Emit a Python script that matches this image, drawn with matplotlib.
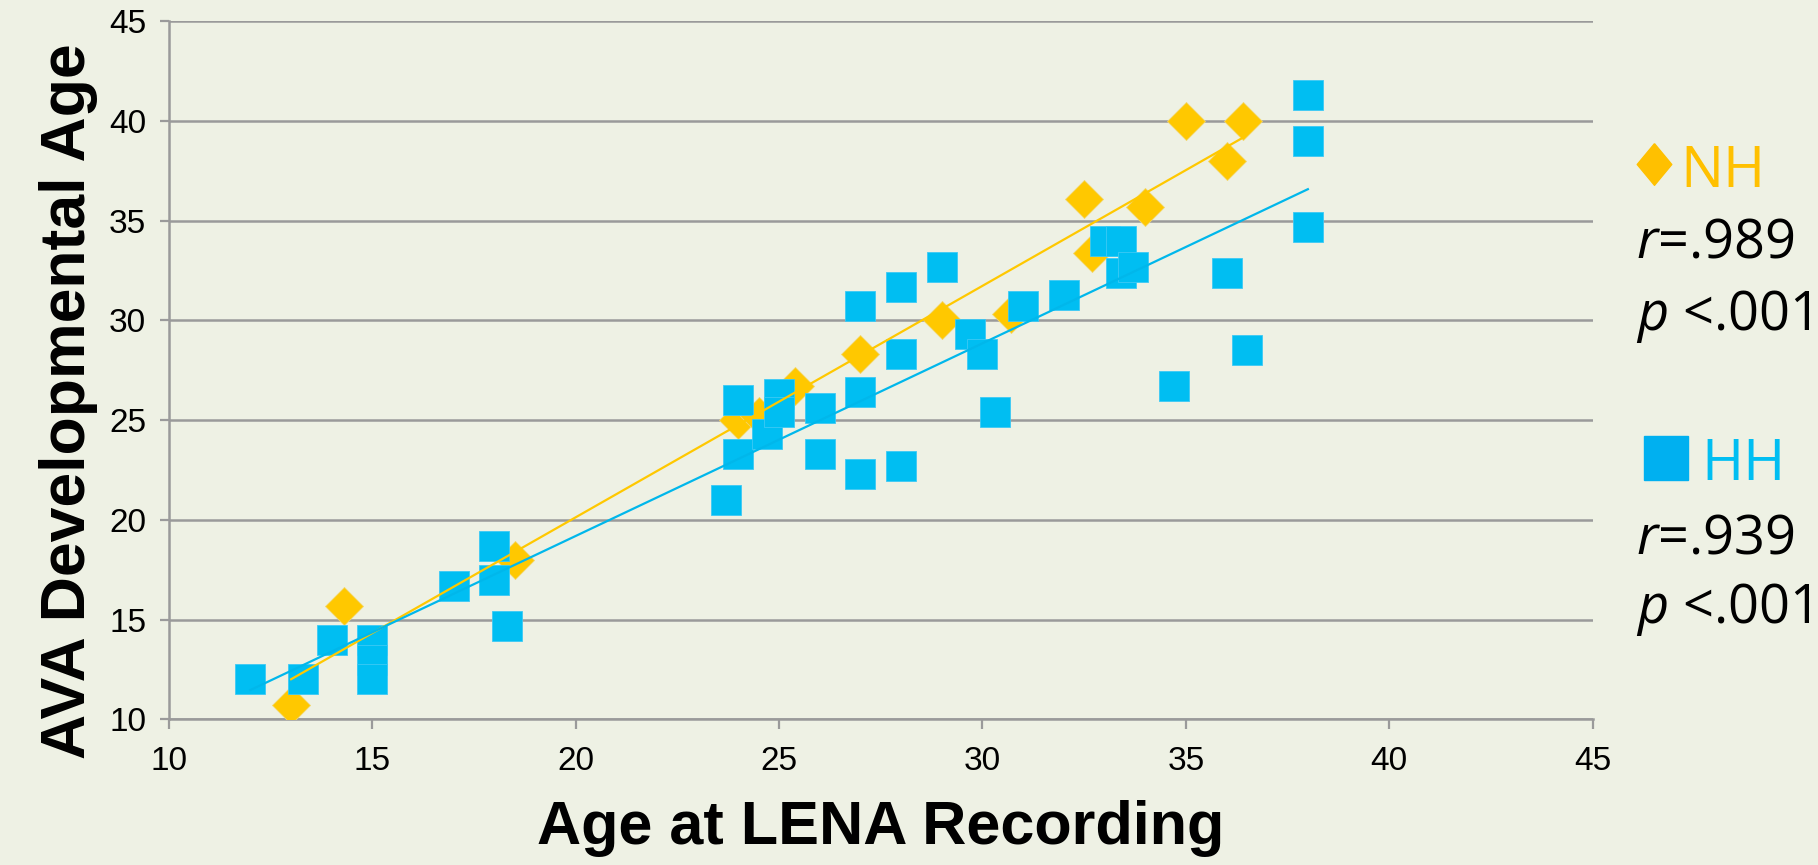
import matplotlib
matplotlib.use('Agg')
import matplotlib.pyplot as plt
from matplotlib.lines import Line2D
import numpy as np

plt.rcParams['font.family'] = ['Liberation Sans', 'DejaVu Sans']
plt.rcParams['mathtext.fontset'] = 'custom'
plt.rcParams['mathtext.rm'] = 'Open Sans'
plt.rcParams['mathtext.it'] = 'Open Sans:italic'

# NH children (diamonds)
nh_age = [13, 14.3, 18.5, 24, 24.5, 25.4, 27, 29, 30.7, 32.5, 32.7, 34, 35, 36, 36.4]
nh_ava = [10.7, 15.7, 18, 25, 25.2, 26.7, 28.3, 30, 30.3, 36.1, 33.4, 35.7, 40, 38, 40]

# HH children (squares)
hh_age = [12, 13.3, 14, 15, 15, 15, 17, 18, 18, 18.3, 23.7, 24, 24, 24.7, 25, 25,
          26, 26, 27, 27, 27, 28, 28, 28, 29, 29.7, 30, 30.3, 31, 32, 33, 33.4,
          33.4, 33.7, 34.7, 36, 36.5, 38, 38, 38]
hh_ava = [12, 12, 14, 14, 13, 12, 16.7, 18.7, 17, 14.7, 21, 23.3, 26, 24.3, 26.3, 25.4,
          25.6, 23.3, 30.7, 26.4, 22.3, 31.7, 28.3, 22.7, 32.7, 29.3, 28.3, 25.4, 30.7, 31.3, 34, 34,
          32.4, 32.7, 26.7, 32.4, 28.5, 41.3, 39, 34.7]

nh_stats = ['$\\it{r}$=.989', '$\\it{p}$ <.001']
hh_stats = ['$\\it{r}$=.939', '$\\it{p}$ <.001']

bg = '#eef1e4'
gold = '#ffc800'
blue = '#00bef2'
grey = '#9a9a9a'

fig = plt.figure(figsize=(18.18, 8.65), dpi=100, facecolor=bg)
ax = fig.add_axes([0.093, 0.1684, 0.783, 0.807], facecolor=bg)

ax.plot(nh_age, nh_ava, linestyle='none', marker='D', markersize=19,
        color=gold, markeredgecolor='#f3d66a', markeredgewidth=0.6, zorder=3)
ax.plot(hh_age, hh_ava, linestyle='none', marker='s', markersize=22,
        color=blue, markeredgecolor='#3cc9f5', markeredgewidth=0.6, zorder=4)

# linear trendlines over each group's range
for xs, ys, col in [(nh_age, nh_ava, gold), (hh_age, hh_ava, '#00b7eb')]:
    k, b = np.polyfit(xs, ys, 1)
    xx = np.array([min(xs), max(xs)])
    ax.plot(xx, k * xx + b, color=col, linewidth=1.6, zorder=5)

ax.set_xlim(10, 45)
ax.set_ylim(10, 45)
ax.set_xticks(range(10, 46, 5))
ax.set_yticks(range(10, 46, 5))
ax.grid(axis='y', color=grey, linewidth=1.8)
ax.set_axisbelow(True)
for s in ['top', 'right']:
    ax.spines[s].set_visible(False)
for s in ['left', 'bottom']:
    ax.spines[s].set_color(grey)
    ax.spines[s].set_linewidth(1.8)
ax.tick_params(axis='y', length=6.5, width=1.6, color=grey, pad=10, labelsize=24)
ax.tick_params(axis='x', length=7, width=1.6, color=grey, pad=12, labelsize=24)

ax.set_xlabel('Age at LENA Recording', fontsize=44, fontweight='bold')
ax.set_ylabel('AVA Developmental Age', fontsize=45, fontweight='bold')
ax.xaxis.set_label_coords(0.5, -0.115)
ax.yaxis.set_label_coords(-0.05, 0.456)

W, H = 1818, 865
fs = 39
diamond = [(0, 1), (0.83, 0), (0, -1), (-0.83, 0), (0, 1)]
fig.add_artist(Line2D([1654 / W], [1 - 164 / H], marker=diamond, markersize=30,
                      color='#ffc000', linestyle='none', transform=fig.transFigure))
fig.text(1680 / W, 1 - 187 / H, 'NH', color='#ffc000', fontsize=fs + 2,
         family='Open Sans', va='baseline')
for i, t in enumerate(nh_stats):
    fig.text(1636 / W, 1 - (258 + 72 * i) / H, t, fontsize=fs,
             family='Open Sans', va='baseline')

fig.add_artist(Line2D([1666 / W], [1 - 458 / H], marker='s', markersize=32,
                      color='#00b0f0', linestyle='none', transform=fig.transFigure))
fig.text(1701 / W, 1 - 480 / H, 'HH', color='#00bef2', fontsize=fs + 2,
         family='Open Sans', va='baseline')
for i, t in enumerate(hh_stats):
    fig.text(1636 / W, 1 - (553 + 70 * i) / H, t, fontsize=fs,
             family='Open Sans', va='baseline')

fig.savefig('out.png', dpi=100, facecolor=bg)
